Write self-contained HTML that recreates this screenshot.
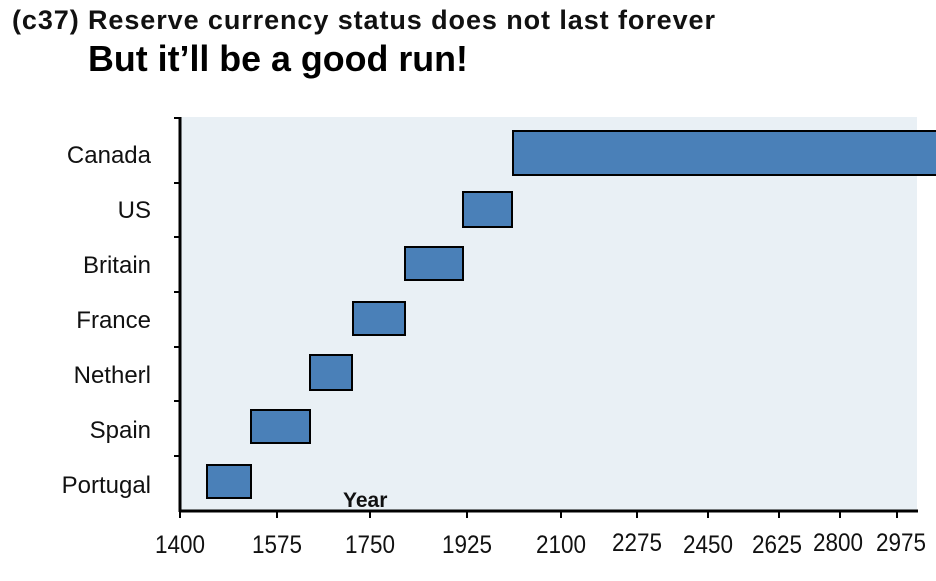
<!DOCTYPE html>
<html><head><meta charset="utf-8"><style>
body{margin:0;background:#fff;width:936px;height:576px;overflow:hidden;font-family:"Liberation Sans",Arial,sans-serif}
</style></head><body>
<svg width="936" height="576" xmlns="http://www.w3.org/2000/svg" font-family="Liberation Sans, Arial, sans-serif">
<text x="12" y="29" font-size="27" font-weight="bold" fill="#111" textLength="703" lengthAdjust="spacing">(c37) Reserve  currency  status  does not last forever</text>
<text x="88" y="71" font-size="36" font-weight="bold" fill="#000" textLength="380" lengthAdjust="spacingAndGlyphs">But it’ll be a good run!</text>
<rect x="181" y="117" width="736" height="394" fill="#e9f0f5"/>
<g fill="#4a80b8" stroke="#000" stroke-width="2">
<rect x="513" y="131" width="425" height="44"/>
<rect x="463" y="192" width="49" height="35"/>
<rect x="405" y="247" width="58" height="33"/>
<rect x="353" y="302" width="52" height="33"/>
<rect x="310" y="355" width="42" height="35"/>
<rect x="251" y="410" width="59" height="33"/>
<rect x="207" y="465" width="44" height="33"/>
</g>
<g stroke="#000" stroke-width="3">
<line x1="180" y1="117" x2="180" y2="512"/>
<line x1="179" y1="511" x2="918" y2="511"/>
</g>
<g stroke="#000" stroke-width="2">
<line x1="174" y1="118" x2="181" y2="118"/><line x1="174" y1="183" x2="181" y2="183"/>
<line x1="174" y1="237" x2="181" y2="237"/><line x1="174" y1="292" x2="181" y2="292"/>
<line x1="174" y1="347" x2="181" y2="347"/><line x1="174" y1="401" x2="181" y2="401"/>
<line x1="174" y1="456" x2="181" y2="456"/>
<line x1="180" y1="511" x2="180" y2="518"/><line x1="277" y1="511" x2="277" y2="518"/>
<line x1="370" y1="511" x2="370" y2="518"/><line x1="467" y1="511" x2="467" y2="518"/>
<line x1="561" y1="511" x2="561" y2="518"/><line x1="637" y1="511" x2="637" y2="518"/>
<line x1="708" y1="511" x2="708" y2="518"/><line x1="779" y1="511" x2="779" y2="518"/>
<line x1="840" y1="511" x2="840" y2="518"/><line x1="897" y1="511" x2="897" y2="518"/>
</g>
<g font-size="24" fill="#111" text-anchor="end">
<text x="151" y="163">Canada</text><text x="151" y="218">US</text>
<text x="151" y="273">Britain</text><text x="151" y="328">France</text>
<text x="151" y="383">Netherl</text><text x="151" y="438">Spain</text>
<text x="151" y="493">Portugal</text>
</g>
<text x="343" y="507" font-size="21" font-weight="bold" fill="#111">Year</text>
<g font-size="25" fill="#111">
<text x="155" y="553" textLength="50" lengthAdjust="spacingAndGlyphs">1400</text>
<text x="252" y="553" textLength="50" lengthAdjust="spacingAndGlyphs">1575</text>
<text x="345" y="553" textLength="50" lengthAdjust="spacingAndGlyphs">1750</text>
<text x="442" y="553" textLength="50" lengthAdjust="spacingAndGlyphs">1925</text>
<text x="536" y="553" textLength="50" lengthAdjust="spacingAndGlyphs">2100</text>
<text x="612" y="551" textLength="50" lengthAdjust="spacingAndGlyphs">2275</text>
<text x="683" y="553" textLength="50" lengthAdjust="spacingAndGlyphs">2450</text>
<text x="752" y="553" textLength="50" lengthAdjust="spacingAndGlyphs">2625</text>
<text x="813" y="551" textLength="50" lengthAdjust="spacingAndGlyphs">2800</text>
<text x="876" y="551" textLength="50" lengthAdjust="spacingAndGlyphs">2975</text>
</g>
</svg>
</body></html>
